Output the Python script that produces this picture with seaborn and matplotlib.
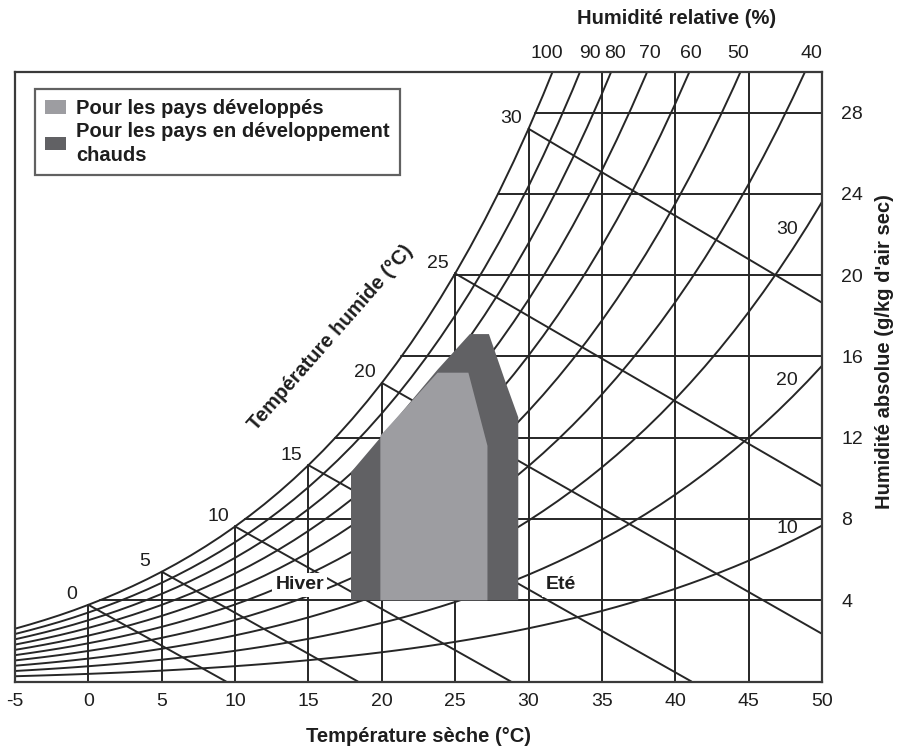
import numpy as np
import pandas as pd
import matplotlib
matplotlib.use("Agg")
import matplotlib.pyplot as plt
import seaborn as sns
from matplotlib.patches import Patch

# ---------------- data ----------------
# saturation vapour pressure of water (kPa), one value per degree C from -5 to 50
temps = list(range(-5, 51))
p_sat = [0.4215, 0.4547, 0.4900, 0.5275, 0.5677, 0.6112, 0.6571, 0.7060, 0.7581, 0.8135,
         0.8725, 0.9353, 1.0020, 1.0729, 1.1481, 1.2280, 1.3128, 1.4026, 1.4979, 1.5987,
         1.7055, 1.8185, 1.9380, 2.0643, 2.1979, 2.3389, 2.4878, 2.6448, 2.8105, 2.9852,
         3.1693, 3.3633, 3.5674, 3.7823, 4.0084, 4.2462, 4.4961, 4.7586, 5.0345, 5.3242,
         5.6280, 5.9468, 6.2812, 6.6315, 6.9988, 7.3838, 7.7866, 8.2081, 8.6495, 9.1110,
         9.5935, 10.098, 10.624, 11.175, 11.749, 12.350]
p_atm = 101.325

rh_levels = [10, 20, 30, 40, 50, 60, 70, 80, 90, 100]
rh_top_labels = [100, 90, 80, 70, 60, 50, 40]
rh_right_labels = [30, 20, 10]
wet_bulb_levels = [0, 5, 10, 15, 20, 25, 30]
x_ticks = [-5, 0, 5, 10, 15, 20, 25, 30, 35, 40, 45, 50]
vert_grid = [0, 5, 10, 15, 20, 25, 30, 35, 40, 45]
y_ticks = [4, 8, 12, 16, 20, 24, 28]

# comfort zones (dry-bulb degC, absolute humidity g/kg)
dev_T = [19.9, 19.9, 23.8, 25.9, 27.2, 27.2]
dev_w = [4.0, 12.1, 15.2, 15.2, 11.6, 4.0]
hot_T = [17.9, 17.9, 19.9, 23.8, 26.0, 27.3, 28.4, 29.3, 29.3]
hot_w = [4.0, 10.3, 12.0, 15.35, 17.1, 17.1, 14.8, 13.0, 4.0]

legend_labels = ["Pour les pays développés", "Pour les pays en développement\nchauds"]

# ---------------- helpers ----------------
T_arr = np.array(temps, dtype=float)
ps_arr = np.array(p_sat)


def w_from_pv(pv):
    return 622.0 * pv / (p_atm - pv)


w_sat = w_from_pv(ps_arr)

rows = []
cid = 0
rh_curves = {}
for rh in rh_levels:
    w = w_from_pv(rh / 100.0 * ps_arr)
    rh_curves[rh] = w
    for t, v in zip(T_arr, w):
        rows.append((cid, t, v))
    cid += 1
for t in vert_grid:
    top = min(w_sat[temps.index(t)], 30.5)
    rows += [(cid, t, 0.0), (cid, t, top)]
    cid += 1
for w in y_ticks:
    tdew = np.interp(w, w_sat, T_arr)
    rows += [(cid, tdew, w), (cid, 50.0, w)]
    cid += 1
for twb in wet_bulb_levels:
    ws = w_sat[temps.index(twb)] / 1000.0
    t_end = twb + (2501 - 2.326 * twb) * ws / 1.006
    t_end = min(t_end, 50.0)
    for t in (twb, t_end):
        w = ((2501 - 2.326 * twb) * ws - 1.006 * (t - twb)) / (2501 + 1.86 * t - 4.186 * twb)
        rows.append((cid, t, max(w * 1000.0, 0.0)))
    cid += 1

df = pd.DataFrame(rows, columns=["curve", "T", "w"])

# ---------------- figure ----------------
sns.set_style("white")
plt.rcParams["font.family"] = ["Liberation Sans", "DejaVu Sans"]

fig = plt.figure(figsize=(9.01, 7.49), dpi=100)
ax = fig.add_axes([15 / 901, 1 - 681.5 / 749, 807 / 901, 609.5 / 749])

line_col = "#262626"
sns.lineplot(data=df, x="T", y="w", units="curve", estimator=None, sort=False,
             color=line_col, lw=1.4, ax=ax, zorder=2)

light_col = "#9d9da1"
dark_col = "#616164"
ax.fill(hot_T, hot_w, color=dark_col, lw=0, zorder=3)
ax.fill(dev_T, dev_w, color=light_col, lw=0, zorder=4)

ax.set_xlim(-5, 50)
ax.set_ylim(0, 30)
ax.set_xlabel("")
ax.set_ylabel("")
ax.set_xticks(x_ticks)
ax.set_xticklabels([str(v) for v in x_ticks])
ax.yaxis.tick_right()
ax.set_yticks(y_ticks)
ax.set_yticklabels([str(v) for v in y_ticks])
ax.tick_params(axis="x", length=0, pad=8, labelsize=14, colors="#1e1e1e")
ax.tick_params(axis="y", length=0, pad=14, labelsize=14, colors="#1e1e1e")
for s in ax.spines.values():
    s.set_visible(True)
    s.set_color("#3a3a3a")
    s.set_linewidth(1.6)

txt = dict(fontsize=14, color="#1e1e1e")

for twb in wet_bulb_levels:
    ax.annotate(str(twb), (twb, w_sat[temps.index(twb)]), xytext=(-17, 10),
                textcoords="offset pixels", ha="center", va="center", zorder=5, **txt)

# horizontal nudges (pixels) of the top labels relative to the curve crossing
top_nudge = {100: -6, 90: 10, 80: 4, 70: 3, 60: 2, 50: -2, 40: 7}
for rh in rh_top_labels:
    w = rh_curves[rh]
    t_cross = np.interp(30.0, w, T_arr)
    ax.annotate(str(rh), (t_cross, 30.0), xytext=(top_nudge[rh], 18),
                textcoords="offset pixels", ha="center", va="center",
                annotation_clip=False, **txt)

for rh in rh_right_labels:
    w = rh_curves[rh]
    ax.annotate(str(rh), (48.5, np.interp(48.5, T_arr, w)), xytext=(-13, 8),
                textcoords="offset pixels", ha="center", va="center", zorder=5, **txt)

ax.text(16.5, 16.9, "Température humide (°C)", rotation=48.8, rotation_mode="anchor",
        ha="center", va="center", fontsize=14.5, fontweight="bold", color="#1e1e1e", zorder=5)

box = dict(facecolor="white", edgecolor="none", pad=2.5)
ax.text(14.4, 4.75, "Hiver", ha="center", va="center", fontsize=14, fontweight="bold",
        color="#1e1e1e", bbox=box, zorder=5)
ax.text(32.2, 4.75, "Eté", ha="center", va="center", fontsize=14, fontweight="bold",
        color="#1e1e1e", bbox=box, zorder=5)

handles = [Patch(facecolor=light_col, edgecolor="none"),
           Patch(facecolor=dark_col, edgecolor="none")]
leg = ax.legend(handles, legend_labels, loc="upper left",
                bbox_to_anchor=(20 / 807, 1 - 17 / 609.5), frameon=True, fancybox=False,
                handlelength=1.05, handleheight=0.62, handletextpad=0.5,
                borderpad=0.5, labelspacing=0.2, borderaxespad=0,
                prop={"weight": "bold", "size": 14.5})
leg.get_frame().set_edgecolor("#3a3a3a")
leg.get_frame().set_linewidth(1.6)
for t in leg.get_texts():
    t.set_color("#1e1e1e")
    t.set_linespacing(1.3)
leg.set_zorder(6)

fig.text(677 / 901, 1 - 18 / 749, "Humidité relative (%)", ha="center", va="center",
         fontsize=14.5, fontweight="bold", color="#1e1e1e")
fig.text(418 / 901, 1 - 736 / 749, "Température sèche (°C)", ha="center", va="center",
         fontsize=14.5, fontweight="bold", color="#1e1e1e")
fig.text(884 / 901, 1 - 352 / 749, "Humidité absolue (g/kg d'air sec)", ha="center",
         va="center", rotation=90, fontsize=14.5, fontweight="bold", color="#1e1e1e")

fig.savefig("out.png", dpi=100)
